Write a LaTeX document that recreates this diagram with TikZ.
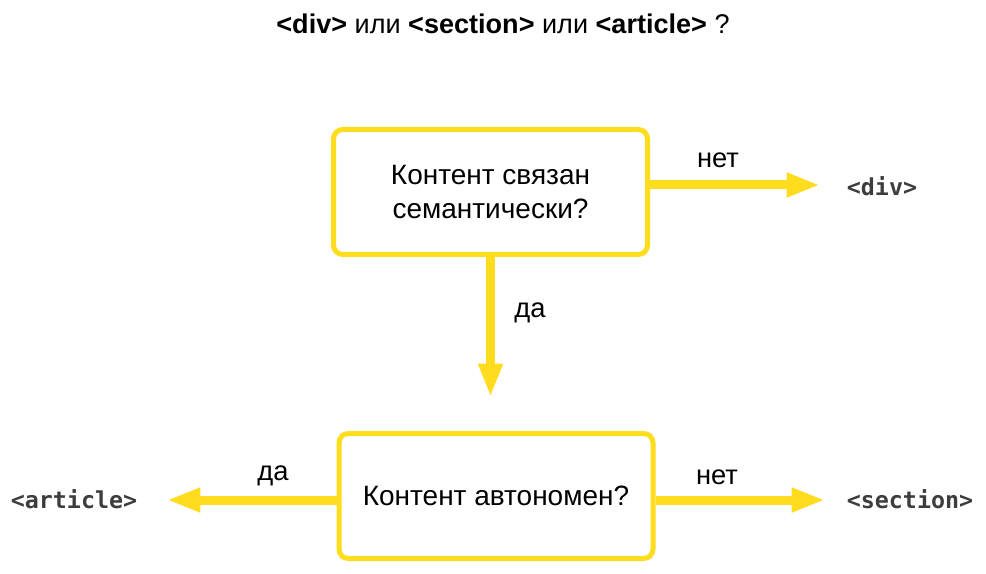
\documentclass[tikz,border=0pt]{standalone}
\usepackage{fontspec}
\setmainfont{Liberation Sans}
\setmonofont{DejaVu Sans Mono}
\usepackage{tikz}
\usetikzlibrary{arrows.meta}

\definecolor{flowyellow}{HTML}{FFDC1E}
\definecolor{tagdark}{HTML}{3D3D3D}

\tikzset{
  question/.style={draw=flowyellow, line width=3.75pt, rounded corners=7pt, fill=white,
    minimum width=235.5pt, minimum height=93.75pt, align=center,
    font=\fontsize{21}{25.5}\selectfont},
  flowarrow/.style={draw=flowyellow, line width=6.75pt,
    -{Triangle[length=25pt, width=17pt]}},
  answer/.style={font=\fontsize{20.5}{24}\selectfont},
  tagname/.style={text=tagdark, font=\ttfamily\bfseries\fontsize{17.5}{20}\selectfont}
}

\begin{document}
\begin{tikzpicture}[x=0.75pt, y=-0.75pt]
            \useasboundingbox (0,0) rectangle (986,574);

            \node at (503,24) {\fontsize{20.3}{24}\selectfont \textbf{<div>} или \textbf{<section>} или \textbf{<article>} ?};

            \node[question] (box1) at (490.5,192) {Контент связан\\семантически?};
            \node[question] (box2) at (496,496) {Контент автономен?};

            \coordinate (divtip) at (820,185);
            \coordinate (downtip) at (490.5,397);
            \coordinate (articletip) at (167,500);
            \coordinate (sectiontip) at (825,500);

            \draw[flowarrow] ([yshift=5.25pt]box1.east) -- (divtip);
            \draw[flowarrow] (box1.south) -- (downtip);
            \draw[flowarrow] (box2.west |- articletip) -- (articletip);
            \draw[flowarrow] (box2.east |- sectiontip) -- (sectiontip);

            \node[answer] at (718,160) {нет};
            \node[answer] at (530,313) {да};
            \node[answer] at (273,476) {да};
            \node[answer] at (717,477) {нет};

            \node[tagname] (div) at (882,186) {<div>};
            \node[tagname] (article) at (74,499) {<article>};
            \node[tagname] (section) at (910,499) {<section>};
         \end{tikzpicture}
\end{document}
